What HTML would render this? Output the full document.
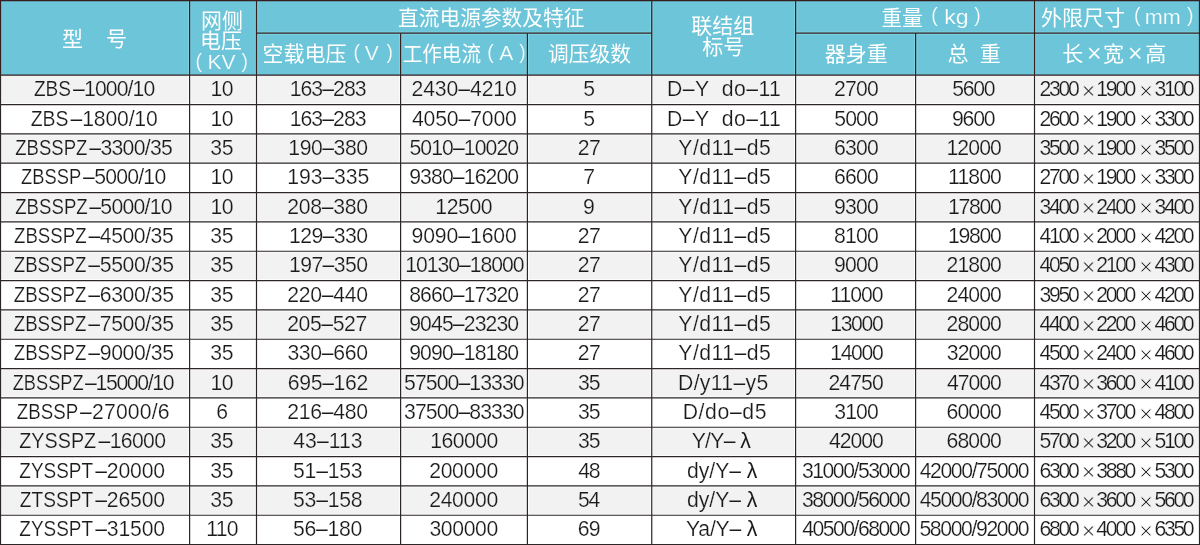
<!DOCTYPE html>
<html lang="zh-CN">
<head>
<meta charset="utf-8">
<title>整流变压器技术参数</title>
<style>
html,body{margin:0;padding:0;background:#fff;}
svg{display:block;will-change:transform;}
.b{font-family:"Liberation Sans", "Noto Sans CJK SC", sans-serif;font-size:21.2px;fill:#1a1a1a;stroke-width:0.2px;}
.lam{stroke:none;}
.x{font-size:24px;text-anchor:middle;stroke-width:0.7px;}
.h{font-family:"Liberation Sans", "Noto Sans CJK SC", sans-serif;font-size:20.6px;fill:#fff;font-weight:400;}
.l{stroke:#6cc5d8;stroke-width:0.2px;}
</style>
</head>
<body>
<svg width="1200" height="545" viewBox="0 0 1200 545">
<rect x="0" y="0" width="1200" height="545" fill="#fff"/>
<rect x="0" y="0" width="1200" height="75.2" fill="#6cc5d8"/>
<rect x="0" y="75.20" width="1200" height="29.34" fill="#f2f2f2"/>
<rect x="0" y="133.88" width="1200" height="29.34" fill="#f2f2f2"/>
<rect x="0" y="192.55" width="1200" height="29.34" fill="#f2f2f2"/>
<rect x="0" y="251.23" width="1200" height="29.34" fill="#f2f2f2"/>
<rect x="0" y="309.90" width="1200" height="29.34" fill="#f2f2f2"/>
<rect x="0" y="368.57" width="1200" height="29.34" fill="#f2f2f2"/>
<rect x="0" y="427.25" width="1200" height="29.34" fill="#f2f2f2"/>
<rect x="0" y="485.93" width="1200" height="29.34" fill="#f2f2f2"/>
<g stroke="#fff" stroke-width="3.2" stroke-opacity="0.75" fill="none">
<line x1="189.6" y1="75.2" x2="189.6" y2="545"/>
<line x1="256.5" y1="75.2" x2="256.5" y2="545"/>
<line x1="400.6" y1="75.2" x2="400.6" y2="545"/>
<line x1="527.4" y1="75.2" x2="527.4" y2="545"/>
<line x1="651.75" y1="75.2" x2="651.75" y2="545"/>
<line x1="795.6" y1="75.2" x2="795.6" y2="545"/>
<line x1="915.6" y1="75.2" x2="915.6" y2="545"/>
<line x1="1034.5" y1="75.2" x2="1034.5" y2="545"/>
<line x1="0" y1="104.54" x2="1200" y2="104.54"/>
<line x1="0" y1="133.88" x2="1200" y2="133.88"/>
<line x1="0" y1="163.21" x2="1200" y2="163.21"/>
<line x1="0" y1="192.55" x2="1200" y2="192.55"/>
<line x1="0" y1="221.89" x2="1200" y2="221.89"/>
<line x1="0" y1="251.23" x2="1200" y2="251.23"/>
<line x1="0" y1="280.56" x2="1200" y2="280.56"/>
<line x1="0" y1="309.90" x2="1200" y2="309.90"/>
<line x1="0" y1="339.24" x2="1200" y2="339.24"/>
<line x1="0" y1="368.57" x2="1200" y2="368.57"/>
<line x1="0" y1="397.91" x2="1200" y2="397.91"/>
<line x1="0" y1="427.25" x2="1200" y2="427.25"/>
<line x1="0" y1="456.59" x2="1200" y2="456.59"/>
<line x1="0" y1="485.93" x2="1200" y2="485.93"/>
<line x1="0" y1="515.26" x2="1200" y2="515.26"/>
</g>
<g stroke="#8fdcea" stroke-width="3.2" stroke-opacity="0.55" fill="none">
<line x1="189.6" y1="0" x2="189.6" y2="75.2"/>
<line x1="256.5" y1="0" x2="256.5" y2="75.2"/>
<line x1="400.6" y1="33.2" x2="400.6" y2="75.2"/>
<line x1="527.4" y1="33.2" x2="527.4" y2="75.2"/>
<line x1="651.75" y1="0" x2="651.75" y2="75.2"/>
<line x1="795.6" y1="0" x2="795.6" y2="75.2"/>
<line x1="915.6" y1="33.2" x2="915.6" y2="75.2"/>
<line x1="1034.5" y1="0" x2="1034.5" y2="75.2"/>
<line x1="256.5" y1="33.2" x2="651.75" y2="33.2"/>
<line x1="795.6" y1="33.2" x2="1199.5" y2="33.2"/>
</g>
<g stroke="#2c2626" stroke-width="1.2" fill="none">
<line x1="0.5" y1="75.2" x2="0.5" y2="545"/>
<line x1="189.6" y1="75.2" x2="189.6" y2="545"/>
<line x1="256.5" y1="75.2" x2="256.5" y2="545"/>
<line x1="400.6" y1="75.2" x2="400.6" y2="545"/>
<line x1="527.4" y1="75.2" x2="527.4" y2="545"/>
<line x1="651.75" y1="75.2" x2="651.75" y2="545"/>
<line x1="795.6" y1="75.2" x2="795.6" y2="545"/>
<line x1="915.6" y1="75.2" x2="915.6" y2="545"/>
<line x1="1034.5" y1="75.2" x2="1034.5" y2="545"/>
<line x1="1199.5" y1="75.2" x2="1199.5" y2="545"/>
<line x1="0" y1="104.54" x2="1200" y2="104.54"/>
<line x1="0" y1="133.88" x2="1200" y2="133.88"/>
<line x1="0" y1="163.21" x2="1200" y2="163.21"/>
<line x1="0" y1="192.55" x2="1200" y2="192.55"/>
<line x1="0" y1="221.89" x2="1200" y2="221.89"/>
<line x1="0" y1="251.23" x2="1200" y2="251.23"/>
<line x1="0" y1="280.56" x2="1200" y2="280.56"/>
<line x1="0" y1="309.90" x2="1200" y2="309.90"/>
<line x1="0" y1="339.24" x2="1200" y2="339.24"/>
<line x1="0" y1="368.57" x2="1200" y2="368.57"/>
<line x1="0" y1="397.91" x2="1200" y2="397.91"/>
<line x1="0" y1="427.25" x2="1200" y2="427.25"/>
<line x1="0" y1="456.59" x2="1200" y2="456.59"/>
<line x1="0" y1="485.93" x2="1200" y2="485.93"/>
<line x1="0" y1="515.26" x2="1200" y2="515.26"/>
<line x1="0" y1="544.60" x2="1200" y2="544.60"/>
</g>
<g stroke="#351f1f" stroke-width="1.25" fill="none">
<line x1="0.5" y1="0" x2="0.5" y2="75.2"/>
<line x1="189.6" y1="0" x2="189.6" y2="75.2"/>
<line x1="256.5" y1="0" x2="256.5" y2="75.2"/>
<line x1="400.6" y1="33.2" x2="400.6" y2="75.2"/>
<line x1="527.4" y1="33.2" x2="527.4" y2="75.2"/>
<line x1="651.75" y1="0" x2="651.75" y2="75.2"/>
<line x1="795.6" y1="0" x2="795.6" y2="75.2"/>
<line x1="915.6" y1="33.2" x2="915.6" y2="75.2"/>
<line x1="1034.5" y1="0" x2="1034.5" y2="75.2"/>
<line x1="1199.5" y1="0" x2="1199.5" y2="75.2"/>
<line x1="0" y1="0.5" x2="1200" y2="0.5"/>
<line x1="0" y1="75.2" x2="1200" y2="75.2"/>
<line x1="256.5" y1="33.2" x2="651.75" y2="33.2"/>
<line x1="795.6" y1="33.2" x2="1199.5" y2="33.2"/>
</g>
<g class="h" text-anchor="middle" fill="#fff">
<text><tspan x="72.5" y="46.4" font-size="21.0">型</tspan><tspan x="116.5" y="46.4" font-size="21.0">号</tspan></text>
<text><tspan x="222.0" y="28.3" font-size="21.0">网侧</tspan></text>
<text><tspan x="221.0" y="48.3" font-size="21.0">电压</tspan></text>
<text><tspan x="198.62" y="68.4" font-size="19.4" class="l">(</tspan><tspan x="221.5" y="69.1" font-size="21.0" class="l">KV</tspan><tspan x="244.75" y="68.4" font-size="19.4" class="l">)</tspan></text>
<text><tspan x="491.25" y="24.5" font-size="21.0" textLength="186.49" lengthAdjust="spacingAndGlyphs">直流电源参数及特征</tspan></text>
<text><tspan x="304.62" y="61.0" font-size="21.0">空载电压</tspan><tspan x="356.75" y="58.7" font-size="19.4" class="l">(</tspan><tspan x="371.75" y="60.2" font-size="21.0" class="l">V</tspan><tspan x="389.75" y="58.7" font-size="19.4" class="l">)</tspan></text>
<text><tspan x="441.88" y="61.0" font-size="21.0" textLength="78.48" lengthAdjust="spacingAndGlyphs">工作电流</tspan><tspan x="490.5" y="58.7" font-size="19.4" class="l">(</tspan><tspan x="506.38" y="60.2" font-size="21.0" class="l">A</tspan><tspan x="522.38" y="58.7" font-size="19.4" class="l">)</tspan></text>
<text><tspan x="589.5" y="61.0" font-size="21.0" textLength="82.99" lengthAdjust="spacingAndGlyphs">调压级数</tspan></text>
<text><tspan x="722.75" y="33.4" font-size="21.0">联结组</tspan></text>
<text><tspan x="723.25" y="53.9" font-size="21.0">标号</tspan></text>
<text><tspan x="902.25" y="24.5" font-size="21.0" textLength="41.26" lengthAdjust="spacingAndGlyphs">重量</tspan><tspan x="934.5" y="21.7" font-size="19.4" class="l">(</tspan><tspan x="956.5" y="23.7" font-size="21.0" class="l" textLength="24.41" lengthAdjust="spacingAndGlyphs">kg</tspan><tspan x="977.38" y="21.7" font-size="19.4" class="l">)</tspan></text>
<text><tspan x="856.37" y="61.0" font-size="21.0">器身重</tspan></text>
<text><tspan x="958.0" y="61.0" font-size="21.0">总</tspan><tspan x="990.25" y="61.0" font-size="21.0">重</tspan></text>
<text><tspan x="1083.0" y="24.5" font-size="21.0">外限尺寸</tspan><tspan x="1137.25" y="21.7" font-size="19.4" class="l">(</tspan><tspan x="1162.75" y="23.7" font-size="21.0" class="l" textLength="35.95" lengthAdjust="spacingAndGlyphs">mm</tspan><tspan x="1190.25" y="21.7" font-size="19.4" class="l">)</tspan></text>
<text><tspan x="1072.75" y="61.0" font-size="21.0">长</tspan><tspan x="1094.25" y="62.0" font-size="25.7" class="l">×</tspan><tspan x="1113.5" y="61.0" font-size="21.0">宽</tspan><tspan x="1135.25" y="62.0" font-size="25.7" class="l">×</tspan><tspan x="1155.75" y="61.0" font-size="21.0">高</tspan></text>
</g>
<g class="b" stroke="#f2f2f2">
<text y="96.27"><tspan x="33.93" textLength="37.04" lengthAdjust="spacingAndGlyphs">ZBS</tspan><tspan x="73.10" textLength="82.18" lengthAdjust="spacing">–1000/10</tspan></text>
<text x="210.52" y="96.27" textLength="23.03" lengthAdjust="spacing" xml:space="preserve">10</text>
<text x="289.65" y="96.27" textLength="76.94" lengthAdjust="spacing" xml:space="preserve">163–283</text>
<text x="411.49" y="96.27" textLength="105.32" lengthAdjust="spacing" xml:space="preserve">2430–4210</text>
<text x="589.17" y="96.27" text-anchor="middle">5</text>
<text x="667.03" y="96.27" textLength="113.89" lengthAdjust="spacing" xml:space="preserve">D–Y  do–11</text>
<text x="834.06" y="96.27" textLength="44.63" lengthAdjust="spacing" xml:space="preserve">2700</text>
<text x="952.17" y="96.27" textLength="43.38" lengthAdjust="spacing" xml:space="preserve">5600</text>
<text y="96.27"><tspan x="1039.55" textLength="40.17" lengthAdjust="spacing">2300</tspan><tspan class="x" x="1088.60" dy="2.7">×</tspan><tspan x="1096.25" dy="-2.7" textLength="40.17" lengthAdjust="spacing">1900</tspan><tspan class="x" x="1145.95" dy="2.7">×</tspan><tspan x="1154.50" dy="-2.7" textLength="40.17" lengthAdjust="spacing">3100</tspan></text>
</g>
<g class="b" stroke="#fff">
<text y="125.61"><tspan x="30.71" textLength="37.78" lengthAdjust="spacingAndGlyphs">ZBS</tspan><tspan x="70.50" textLength="87.28" lengthAdjust="spacing">–1800/10</tspan></text>
<text x="210.52" y="125.61" textLength="23.03" lengthAdjust="spacing" xml:space="preserve">10</text>
<text x="289.65" y="125.61" textLength="76.94" lengthAdjust="spacing" xml:space="preserve">163–283</text>
<text x="411.99" y="125.61" textLength="104.82" lengthAdjust="spacing" xml:space="preserve">4050–7000</text>
<text x="589.17" y="125.61" text-anchor="middle">5</text>
<text x="667.03" y="125.61" textLength="113.89" lengthAdjust="spacing" xml:space="preserve">D–Y  do–11</text>
<text x="834.31" y="125.61" textLength="44.38" lengthAdjust="spacing" xml:space="preserve">5000</text>
<text x="951.92" y="125.61" textLength="43.63" lengthAdjust="spacing" xml:space="preserve">9600</text>
<text y="125.61"><tspan x="1039.55" textLength="40.17" lengthAdjust="spacing">2600</tspan><tspan class="x" x="1088.60" dy="2.7">×</tspan><tspan x="1096.25" dy="-2.7" textLength="40.17" lengthAdjust="spacing">1900</tspan><tspan class="x" x="1145.95" dy="2.7">×</tspan><tspan x="1154.50" dy="-2.7" textLength="40.17" lengthAdjust="spacing">3300</tspan></text>
</g>
<g class="b" stroke="#f2f2f2">
<text y="154.94"><tspan x="15.24" textLength="72.14" lengthAdjust="spacingAndGlyphs">ZBSSPZ</tspan><tspan x="89.30" textLength="83.58" lengthAdjust="spacing">–3300/35</tspan></text>
<text x="210.27" y="154.94" textLength="23.28" lengthAdjust="spacing" xml:space="preserve">35</text>
<text x="288.32" y="154.94" textLength="79.70" lengthAdjust="spacing" xml:space="preserve">190–380</text>
<text x="409.40" y="154.94" textLength="109.77" lengthAdjust="spacing" xml:space="preserve">5010–10020</text>
<text x="577.63" y="154.94" textLength="23.11" lengthAdjust="spacing" xml:space="preserve">27</text>
<text x="678.30" y="154.94" textLength="92.56" lengthAdjust="spacing" xml:space="preserve">Y/d11–d5</text>
<text x="834.06" y="154.94" textLength="44.63" lengthAdjust="spacing" xml:space="preserve">6300</text>
<text x="946.41" y="154.94" textLength="55.51" lengthAdjust="spacing" xml:space="preserve">12000</text>
<text y="154.94"><tspan x="1039.55" textLength="40.17" lengthAdjust="spacing">3500</tspan><tspan class="x" x="1088.60" dy="2.7">×</tspan><tspan x="1096.25" dy="-2.7" textLength="40.17" lengthAdjust="spacing">1900</tspan><tspan class="x" x="1145.95" dy="2.7">×</tspan><tspan x="1154.50" dy="-2.7" textLength="40.17" lengthAdjust="spacing">3500</tspan></text>
</g>
<g class="b" stroke="#fff">
<text y="184.28"><tspan x="21.05" textLength="60.12" lengthAdjust="spacingAndGlyphs">ZBSSP</tspan><tspan x="83.10" textLength="83.08" lengthAdjust="spacing">–5000/10</tspan></text>
<text x="210.52" y="184.28" textLength="23.03" lengthAdjust="spacing" xml:space="preserve">10</text>
<text x="287.31" y="184.28" textLength="81.95" lengthAdjust="spacing" xml:space="preserve">193–335</text>
<text x="409.15" y="184.28" textLength="110.02" lengthAdjust="spacing" xml:space="preserve">9380–16200</text>
<text x="589.17" y="184.28" text-anchor="middle">7</text>
<text x="678.30" y="184.28" textLength="92.56" lengthAdjust="spacing" xml:space="preserve">Y/d11–d5</text>
<text x="834.06" y="184.28" textLength="44.63" lengthAdjust="spacing" xml:space="preserve">6600</text>
<text x="948.08" y="184.28" textLength="53.78" lengthAdjust="spacing" xml:space="preserve">11800</text>
<text y="184.28"><tspan x="1039.55" textLength="40.17" lengthAdjust="spacing">2700</tspan><tspan class="x" x="1088.60" dy="2.7">×</tspan><tspan x="1096.25" dy="-2.7" textLength="40.17" lengthAdjust="spacing">1900</tspan><tspan class="x" x="1145.95" dy="2.7">×</tspan><tspan x="1154.50" dy="-2.7" textLength="40.17" lengthAdjust="spacing">3300</tspan></text>
</g>
<g class="b" stroke="#f2f2f2">
<text y="213.62"><tspan x="15.24" textLength="72.45" lengthAdjust="spacingAndGlyphs">ZBSSPZ</tspan><tspan x="89.30" textLength="83.18" lengthAdjust="spacing">–5000/10</tspan></text>
<text x="210.52" y="213.62" textLength="23.03" lengthAdjust="spacing" xml:space="preserve">10</text>
<text x="287.15" y="213.62" textLength="80.87" lengthAdjust="spacing" xml:space="preserve">208–380</text>
<text x="435.36" y="213.62" textLength="57.18" lengthAdjust="spacing" xml:space="preserve">12500</text>
<text x="589.01" y="213.62" text-anchor="middle">9</text>
<text x="678.30" y="213.62" textLength="92.56" lengthAdjust="spacing" xml:space="preserve">Y/d11–d5</text>
<text x="834.06" y="213.62" textLength="44.63" lengthAdjust="spacing" xml:space="preserve">9300</text>
<text x="948.08" y="213.62" textLength="53.84" lengthAdjust="spacing" xml:space="preserve">17800</text>
<text y="213.62"><tspan x="1039.55" textLength="40.17" lengthAdjust="spacing">3400</tspan><tspan class="x" x="1088.60" dy="2.7">×</tspan><tspan x="1096.25" dy="-2.7" textLength="40.17" lengthAdjust="spacing">2400</tspan><tspan class="x" x="1145.95" dy="2.7">×</tspan><tspan x="1154.50" dy="-2.7" textLength="40.17" lengthAdjust="spacing">3400</tspan></text>
</g>
<g class="b" stroke="#fff">
<text y="242.96"><tspan x="14.04" textLength="72.55" lengthAdjust="spacingAndGlyphs">ZBSSPZ</tspan><tspan x="88.50" textLength="85.18" lengthAdjust="spacing">–4500/35</tspan></text>
<text x="210.27" y="242.96" textLength="23.28" lengthAdjust="spacing" xml:space="preserve">35</text>
<text x="288.98" y="242.96" textLength="79.03" lengthAdjust="spacing" xml:space="preserve">129–330</text>
<text x="411.49" y="242.96" textLength="105.32" lengthAdjust="spacing" xml:space="preserve">9090–1600</text>
<text x="577.63" y="242.96" textLength="23.11" lengthAdjust="spacing" xml:space="preserve">27</text>
<text x="678.30" y="242.96" textLength="92.56" lengthAdjust="spacing" xml:space="preserve">Y/d11–d5</text>
<text x="834.06" y="242.96" textLength="44.63" lengthAdjust="spacing" xml:space="preserve">8100</text>
<text x="948.08" y="242.96" textLength="53.84" lengthAdjust="spacing" xml:space="preserve">19800</text>
<text y="242.96"><tspan x="1039.55" textLength="40.17" lengthAdjust="spacing">4100</tspan><tspan class="x" x="1088.60" dy="2.7">×</tspan><tspan x="1096.25" dy="-2.7" textLength="40.17" lengthAdjust="spacing">2000</tspan><tspan class="x" x="1145.95" dy="2.7">×</tspan><tspan x="1154.50" dy="-2.7" textLength="40.17" lengthAdjust="spacing">4200</tspan></text>
</g>
<g class="b" stroke="#f2f2f2">
<text y="272.29"><tspan x="13.74" textLength="72.65" lengthAdjust="spacingAndGlyphs">ZBSSPZ</tspan><tspan x="88.30" textLength="85.78" lengthAdjust="spacing">–5500/35</tspan></text>
<text x="210.27" y="272.29" textLength="23.28" lengthAdjust="spacing" xml:space="preserve">35</text>
<text x="288.98" y="272.29" textLength="79.03" lengthAdjust="spacing" xml:space="preserve">197–350</text>
<text x="405.31" y="272.29" textLength="119.24" lengthAdjust="spacing" xml:space="preserve">10130–18000</text>
<text x="577.63" y="272.29" textLength="23.11" lengthAdjust="spacing" xml:space="preserve">27</text>
<text x="678.30" y="272.29" textLength="92.56" lengthAdjust="spacing" xml:space="preserve">Y/d11–d5</text>
<text x="834.06" y="272.29" textLength="44.63" lengthAdjust="spacing" xml:space="preserve">9000</text>
<text x="946.58" y="272.29" textLength="55.34" lengthAdjust="spacing" xml:space="preserve">21800</text>
<text y="272.29"><tspan x="1039.55" textLength="40.17" lengthAdjust="spacing">4050</tspan><tspan class="x" x="1088.60" dy="2.7">×</tspan><tspan x="1096.25" dy="-2.7" textLength="40.17" lengthAdjust="spacing">2100</tspan><tspan class="x" x="1145.95" dy="2.7">×</tspan><tspan x="1154.50" dy="-2.7" textLength="40.17" lengthAdjust="spacing">4300</tspan></text>
</g>
<g class="b" stroke="#fff">
<text y="301.63"><tspan x="13.74" textLength="72.65" lengthAdjust="spacingAndGlyphs">ZBSSPZ</tspan><tspan x="88.30" textLength="85.78" lengthAdjust="spacing">–6300/35</tspan></text>
<text x="210.27" y="301.63" textLength="23.28" lengthAdjust="spacing" xml:space="preserve">35</text>
<text x="287.15" y="301.63" textLength="80.87" lengthAdjust="spacing" xml:space="preserve">220–440</text>
<text x="409.15" y="301.63" textLength="110.02" lengthAdjust="spacing" xml:space="preserve">8660–17320</text>
<text x="577.63" y="301.63" textLength="23.11" lengthAdjust="spacing" xml:space="preserve">27</text>
<text x="678.30" y="301.63" textLength="92.56" lengthAdjust="spacing" xml:space="preserve">Y/d11–d5</text>
<text x="830.22" y="301.63" textLength="53.44" lengthAdjust="spacing" xml:space="preserve">11000</text>
<text x="946.58" y="301.63" textLength="55.34" lengthAdjust="spacing" xml:space="preserve">24000</text>
<text y="301.63"><tspan x="1039.55" textLength="40.17" lengthAdjust="spacing">3950</tspan><tspan class="x" x="1088.60" dy="2.7">×</tspan><tspan x="1096.25" dy="-2.7" textLength="40.17" lengthAdjust="spacing">2000</tspan><tspan class="x" x="1145.95" dy="2.7">×</tspan><tspan x="1154.50" dy="-2.7" textLength="40.17" lengthAdjust="spacing">4200</tspan></text>
</g>
<g class="b" stroke="#f2f2f2">
<text y="330.97"><tspan x="13.74" textLength="72.65" lengthAdjust="spacingAndGlyphs">ZBSSPZ</tspan><tspan x="88.30" textLength="85.78" lengthAdjust="spacing">–7500/35</tspan></text>
<text x="210.27" y="330.97" textLength="23.28" lengthAdjust="spacing" xml:space="preserve">35</text>
<text x="287.15" y="330.97" textLength="80.11" lengthAdjust="spacing" xml:space="preserve">205–527</text>
<text x="409.15" y="330.97" textLength="110.02" lengthAdjust="spacing" xml:space="preserve">9045–23230</text>
<text x="577.63" y="330.97" textLength="23.11" lengthAdjust="spacing" xml:space="preserve">27</text>
<text x="678.30" y="330.97" textLength="92.56" lengthAdjust="spacing" xml:space="preserve">Y/d11–d5</text>
<text x="830.22" y="330.97" textLength="53.51" lengthAdjust="spacing" xml:space="preserve">13000</text>
<text x="946.58" y="330.97" textLength="55.34" lengthAdjust="spacing" xml:space="preserve">28000</text>
<text y="330.97"><tspan x="1039.55" textLength="40.17" lengthAdjust="spacing">4400</tspan><tspan class="x" x="1088.60" dy="2.7">×</tspan><tspan x="1096.25" dy="-2.7" textLength="40.17" lengthAdjust="spacing">2200</tspan><tspan class="x" x="1145.95" dy="2.7">×</tspan><tspan x="1154.50" dy="-2.7" textLength="40.17" lengthAdjust="spacing">4600</tspan></text>
</g>
<g class="b" stroke="#fff">
<text y="360.31"><tspan x="13.74" textLength="72.65" lengthAdjust="spacingAndGlyphs">ZBSSPZ</tspan><tspan x="88.30" textLength="85.78" lengthAdjust="spacing">–9000/35</tspan></text>
<text x="210.27" y="360.31" textLength="23.28" lengthAdjust="spacing" xml:space="preserve">35</text>
<text x="287.40" y="360.31" textLength="80.62" lengthAdjust="spacing" xml:space="preserve">330–660</text>
<text x="409.15" y="360.31" textLength="110.02" lengthAdjust="spacing" xml:space="preserve">9090–18180</text>
<text x="577.63" y="360.31" textLength="23.11" lengthAdjust="spacing" xml:space="preserve">27</text>
<text x="678.30" y="360.31" textLength="92.56" lengthAdjust="spacing" xml:space="preserve">Y/d11–d5</text>
<text x="830.22" y="360.31" textLength="53.51" lengthAdjust="spacing" xml:space="preserve">14000</text>
<text x="946.83" y="360.31" textLength="55.09" lengthAdjust="spacing" xml:space="preserve">32000</text>
<text y="360.31"><tspan x="1039.55" textLength="40.17" lengthAdjust="spacing">4500</tspan><tspan class="x" x="1088.60" dy="2.7">×</tspan><tspan x="1096.25" dy="-2.7" textLength="40.17" lengthAdjust="spacing">2400</tspan><tspan class="x" x="1145.95" dy="2.7">×</tspan><tspan x="1154.50" dy="-2.7" textLength="40.17" lengthAdjust="spacing">4600</tspan></text>
</g>
<g class="b" stroke="#f2f2f2">
<text y="389.64"><tspan x="12.76" textLength="70.82" lengthAdjust="spacingAndGlyphs">ZBSSPZ</tspan><tspan x="85.10" textLength="89.41" lengthAdjust="spacing">–15000/10</tspan></text>
<text x="210.52" y="389.64" textLength="23.03" lengthAdjust="spacing" xml:space="preserve">10</text>
<text x="287.81" y="389.64" textLength="80.45" lengthAdjust="spacing" xml:space="preserve">695–162</text>
<text x="404.06" y="389.64" textLength="120.49" lengthAdjust="spacing" xml:space="preserve">57500–13330</text>
<text x="577.88" y="389.64" textLength="22.61" lengthAdjust="spacing" xml:space="preserve">35</text>
<text x="678.05" y="389.64" textLength="90.17" lengthAdjust="spacing" xml:space="preserve">D/y11–y5</text>
<text x="828.38" y="389.64" textLength="55.34" lengthAdjust="spacing" xml:space="preserve">24750</text>
<text x="947.08" y="389.64" textLength="54.84" lengthAdjust="spacing" xml:space="preserve">47000</text>
<text y="389.64"><tspan x="1039.55" textLength="40.17" lengthAdjust="spacing">4370</tspan><tspan class="x" x="1088.60" dy="2.7">×</tspan><tspan x="1096.25" dy="-2.7" textLength="40.17" lengthAdjust="spacing">3600</tspan><tspan class="x" x="1145.95" dy="2.7">×</tspan><tspan x="1154.50" dy="-2.7" textLength="40.17" lengthAdjust="spacing">4100</tspan></text>
</g>
<g class="b" stroke="#fff">
<text y="418.98"><tspan x="16.84" textLength="61.35" lengthAdjust="spacingAndGlyphs">ZBSSP</tspan><tspan x="80.10" textLength="89.38" lengthAdjust="spacing">–27000/6</tspan></text>
<text x="222.27" y="418.98" text-anchor="middle">6</text>
<text x="287.15" y="418.98" textLength="80.87" lengthAdjust="spacing" xml:space="preserve">216–480</text>
<text x="404.06" y="418.98" textLength="120.49" lengthAdjust="spacing" xml:space="preserve">37500–83330</text>
<text x="577.88" y="418.98" textLength="22.61" lengthAdjust="spacing" xml:space="preserve">35</text>
<text x="682.72" y="418.98" textLength="83.74" lengthAdjust="spacing" xml:space="preserve">D/do–d5</text>
<text x="834.31" y="418.98" textLength="44.38" lengthAdjust="spacing" xml:space="preserve">3100</text>
<text x="946.58" y="418.98" textLength="55.34" lengthAdjust="spacing" xml:space="preserve">60000</text>
<text y="418.98"><tspan x="1039.55" textLength="40.17" lengthAdjust="spacing">4500</tspan><tspan class="x" x="1088.60" dy="2.7">×</tspan><tspan x="1096.25" dy="-2.7" textLength="40.17" lengthAdjust="spacing">3700</tspan><tspan class="x" x="1145.95" dy="2.7">×</tspan><tspan x="1154.50" dy="-2.7" textLength="40.17" lengthAdjust="spacing">4800</tspan></text>
</g>
<g class="b" stroke="#f2f2f2">
<text y="448.32"><tspan x="19.30" textLength="76.83" lengthAdjust="spacingAndGlyphs">ZYSSPZ</tspan><tspan x="98.50" textLength="67.50" lengthAdjust="spacing">–16000</tspan></text>
<text x="210.27" y="448.32" textLength="23.28" lengthAdjust="spacing" xml:space="preserve">35</text>
<text x="293.32" y="448.32" textLength="69.17" lengthAdjust="spacing" xml:space="preserve">43–113</text>
<text x="430.35" y="448.32" textLength="67.98" lengthAdjust="spacing" xml:space="preserve">160000</text>
<text x="577.88" y="448.32" textLength="22.61" lengthAdjust="spacing" xml:space="preserve">35</text>
<text x="691.65" y="448.32" textLength="59.10" lengthAdjust="spacing" xml:space="preserve">Y/Y– <tspan class="lam">λ</tspan></text>
<text x="828.88" y="448.32" textLength="54.84" lengthAdjust="spacing" xml:space="preserve">42000</text>
<text x="946.58" y="448.32" textLength="55.34" lengthAdjust="spacing" xml:space="preserve">68000</text>
<text y="448.32"><tspan x="1039.55" textLength="40.17" lengthAdjust="spacing">5700</tspan><tspan class="x" x="1088.60" dy="2.7">×</tspan><tspan x="1096.25" dy="-2.7" textLength="40.17" lengthAdjust="spacing">3200</tspan><tspan class="x" x="1145.95" dy="2.7">×</tspan><tspan x="1154.50" dy="-2.7" textLength="40.17" lengthAdjust="spacing">5100</tspan></text>
</g>
<g class="b" stroke="#fff">
<text y="477.66"><tspan x="19.33" textLength="73.75" lengthAdjust="spacingAndGlyphs">ZYSSPT</tspan><tspan x="95.20" textLength="69.90" lengthAdjust="spacing">–20000</tspan></text>
<text x="210.27" y="477.66" textLength="23.28" lengthAdjust="spacing" xml:space="preserve">35</text>
<text x="293.07" y="477.66" textLength="69.48" lengthAdjust="spacing" xml:space="preserve">51–153</text>
<text x="429.18" y="477.66" textLength="69.15" lengthAdjust="spacing" xml:space="preserve">200000</text>
<text x="578.13" y="477.66" textLength="22.36" lengthAdjust="spacing" xml:space="preserve">48</text>
<text x="687.06" y="477.66" textLength="70.37" lengthAdjust="spacing" xml:space="preserve">dy/Y– <tspan class="lam">λ</tspan></text>
<text x="801.92" y="477.66" textLength="109.00" lengthAdjust="spacing" xml:space="preserve">31000/53000</text>
<text x="919.70" y="477.66" textLength="109.75" lengthAdjust="spacing" xml:space="preserve">42000/75000</text>
<text y="477.66"><tspan x="1039.55" textLength="40.17" lengthAdjust="spacing">6300</tspan><tspan class="x" x="1088.60" dy="2.7">×</tspan><tspan x="1096.25" dy="-2.7" textLength="40.17" lengthAdjust="spacing">3880</tspan><tspan class="x" x="1145.95" dy="2.7">×</tspan><tspan x="1154.50" dy="-2.7" textLength="40.17" lengthAdjust="spacing">5300</tspan></text>
</g>
<g class="b" stroke="#f2f2f2">
<text y="506.99"><tspan x="19.82" textLength="73.31" lengthAdjust="spacingAndGlyphs">ZTSSPT</tspan><tspan x="95.20" textLength="69.90" lengthAdjust="spacing">–26500</tspan></text>
<text x="210.27" y="506.99" textLength="23.28" lengthAdjust="spacing" xml:space="preserve">35</text>
<text x="293.07" y="506.99" textLength="69.48" lengthAdjust="spacing" xml:space="preserve">53–158</text>
<text x="429.18" y="506.99" textLength="69.15" lengthAdjust="spacing" xml:space="preserve">240000</text>
<text x="577.88" y="506.99" textLength="22.36" lengthAdjust="spacing" xml:space="preserve">54</text>
<text x="687.06" y="506.99" textLength="70.37" lengthAdjust="spacing" xml:space="preserve">dy/Y– <tspan class="lam">λ</tspan></text>
<text x="801.92" y="506.99" textLength="109.00" lengthAdjust="spacing" xml:space="preserve">38000/56000</text>
<text x="919.70" y="506.99" textLength="109.75" lengthAdjust="spacing" xml:space="preserve">45000/83000</text>
<text y="506.99"><tspan x="1039.55" textLength="40.17" lengthAdjust="spacing">6300</tspan><tspan class="x" x="1088.60" dy="2.7">×</tspan><tspan x="1096.25" dy="-2.7" textLength="40.17" lengthAdjust="spacing">3600</tspan><tspan class="x" x="1145.95" dy="2.7">×</tspan><tspan x="1154.50" dy="-2.7" textLength="40.17" lengthAdjust="spacing">5600</tspan></text>
</g>
<g class="b" stroke="#fff">
<text y="536.33"><tspan x="19.33" textLength="73.75" lengthAdjust="spacingAndGlyphs">ZYSSPT</tspan><tspan x="95.20" textLength="69.90" lengthAdjust="spacing">–31500</tspan></text>
<text x="206.18" y="536.33" textLength="32.33" lengthAdjust="spacing" xml:space="preserve">110</text>
<text x="293.07" y="536.33" textLength="69.23" lengthAdjust="spacing" xml:space="preserve">56–180</text>
<text x="429.43" y="536.33" textLength="68.90" lengthAdjust="spacing" xml:space="preserve">300000</text>
<text x="577.63" y="536.33" textLength="22.86" lengthAdjust="spacing" xml:space="preserve">69</text>
<text x="685.98" y="536.33" textLength="71.41" lengthAdjust="spacing" xml:space="preserve">Ya/Y– <tspan class="lam">λ</tspan></text>
<text x="802.17" y="536.33" textLength="108.75" lengthAdjust="spacing" xml:space="preserve">40500/68000</text>
<text x="919.45" y="536.33" textLength="110.00" lengthAdjust="spacing" xml:space="preserve">58000/92000</text>
<text y="536.33"><tspan x="1039.55" textLength="40.17" lengthAdjust="spacing">6800</tspan><tspan class="x" x="1088.60" dy="2.7">×</tspan><tspan x="1096.25" dy="-2.7" textLength="40.17" lengthAdjust="spacing">4000</tspan><tspan class="x" x="1145.95" dy="2.7">×</tspan><tspan x="1154.50" dy="-2.7" textLength="40.17" lengthAdjust="spacing">6350</tspan></text>
</g>
</svg>
</body>
</html>
